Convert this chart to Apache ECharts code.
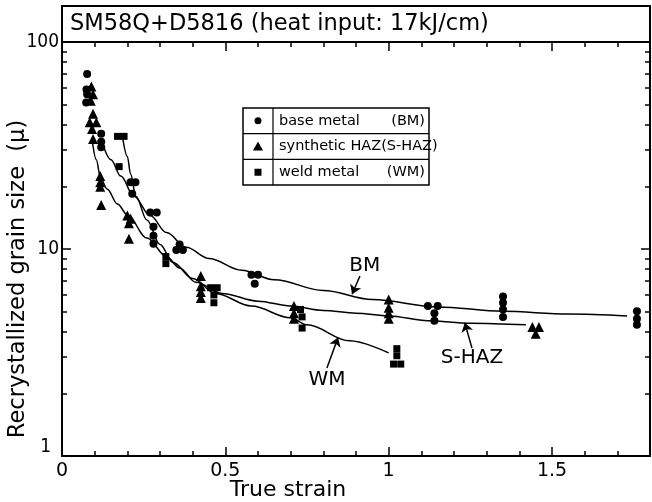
<!DOCTYPE html>
<html>
<head>
<meta charset="utf-8">
<script src="https://cdn.jsdelivr.net/npm/echarts@6/dist/echarts.min.js"></script>
<style>
  html, body { margin: 0; padding: 0; background: #fff; }
  #main { width: 652px; height: 502px; }
</style>
</head>
<body>
<div id="main"></div>
<script>
// ---- data: [true strain, grain size (micron)] ----
const baseMetal = [
  [0.077, 70], [0.075, 59], [0.077, 56], [0.074, 51],
  [0.12, 36], [0.12, 33], [0.12, 31],
  [0.21, 21], [0.225, 21], [0.215, 18.5],
  [0.27, 15], [0.29, 15], [0.28, 12.8], [0.28, 11.6], [0.28, 10.6],
  [0.36, 10.5], [0.35, 9.9], [0.37, 9.9],
  [0.58, 7.5], [0.6, 7.5], [0.59, 6.8],
  [1.12, 5.3], [1.15, 5.3], [1.14, 4.9], [1.14, 4.5],
  [1.35, 5.9], [1.35, 5.5], [1.35, 5.1], [1.35, 4.7],
  [1.76, 5.0], [1.76, 4.6], [1.76, 4.3]
]
const syntheticHaz = [
  [0.09, 61], [0.095, 56], [0.088, 52], [0.095, 45], [0.085, 41], [0.105, 41],
  [0.092, 38], [0.095, 34],
  [0.117, 22.5], [0.117, 21], [0.117, 20], [0.12, 16.3],
  [0.2, 14.5], [0.21, 14], [0.205, 13.3], [0.205, 11.2],
  [0.425, 7.4], [0.425, 6.6], [0.425, 6.2], [0.425, 5.8],
  [0.71, 5.3], [0.71, 4.9], [0.71, 4.6],
  [1.0, 5.7], [1.0, 5.2], [1.0, 4.9], [1.0, 4.6],
  [1.44, 4.2], [1.46, 4.2], [1.45, 3.9]
]
const weldMetal = [
  [0.17, 35], [0.19, 35], [0.175, 25],
  [0.318, 9.2], [0.318, 8.5],
  [0.455, 6.5], [0.475, 6.5], [0.465, 6.0], [0.465, 5.5],
  [0.73, 5.1], [0.735, 4.7], [0.735, 4.15],
  [1.025, 3.3], [1.025, 3.05], [1.015, 2.78], [1.037, 2.78]
]

// fitted curves drawn in the figure
const bmCurve = [
  [0.125, 32], [0.15, 27], [0.18, 22.5], [0.22, 18], [0.27, 14.5], [0.32, 12],
  [0.38, 10.2], [0.45, 9], [0.55, 7.9], [0.65, 7.1], [0.8, 6.3], [0.95, 5.7],
  [1.15, 5.25], [1.35, 5.0], [1.55, 4.85], [1.73, 4.75]
]
const shazCurve = [
  [0.093, 33], [0.105, 27], [0.118, 22], [0.138, 19.5], [0.17, 16.5], [0.2, 14.6],
  [0.26, 11.3], [0.32, 9.2], [0.36, 8.1], [0.41, 6.9], [0.49, 6.1], [0.6, 5.6],
  [0.7, 5.3], [0.8, 5.05], [0.9, 4.9], [1.0, 4.75], [1.12, 4.5], [1.25, 4.38], [1.42, 4.3]
]
const wmCurve = [
  [0.185, 35], [0.2, 28], [0.21, 23], [0.226, 18], [0.26, 13.8], [0.3, 10.5],
  [0.34, 8.6], [0.4, 7.2], [0.47, 6.1], [0.58, 5.3], [0.7, 4.65], [0.75, 4.3],
  [0.88, 3.6], [1.0, 3.15]
]

// curve labels and their arrows (data coordinates)
const curveLabels = [
  { name: 'BM', value: [0.927, 8.3] },
  { name: 'S-HAZ', value: [1.255, 2.97] },
  { name: 'WM', value: [0.811, 2.33] }
]
const labelArrows = [
  [[0.912, 7.4], [0.888, 6.05]],
  [[1.255, 3.32], [1.233, 4.4]],
  [[0.811, 2.66], [0.845, 3.74]]
]

// axis ticks
const xMajor = [0, 0.5, 1, 1.5]
const xMinor = [0.1, 0.2, 0.3, 0.4, 0.6, 0.7, 0.8, 0.9, 1.1, 1.2, 1.3, 1.4, 1.6, 1.7]
const yMajor = [1, 10, 100]
const yMinor = [2, 3, 4, 5, 6, 7, 8, 9, 20, 30, 40, 50, 60, 70, 80, 90]

const legendRows = [
  { symbol: 'circle', text: 'base metal', tag: '(BM)' },
  { symbol: 'triangle', text: 'synthetic HAZ(S-HAZ)', tag: '' },
  { symbol: 'square', text: 'weld metal', tag: '(WM)' }
]

const FONT = 'DejaVu Sans'
const NARROW = '"DejaVu Sans Condensed", "DejaVu Sans"'
const INK = '#000'

const chart = echarts.init(document.getElementById('main'))

function xAx(pos, ticks, len, withLine, withLabel) {
  return {
    type: 'value', position: pos, min: 0, max: 1.8,
    axisLine: { show: withLine, onZero: false, lineStyle: { color: INK, width: 2 } },
    axisTick: { show: true, inside: true, length: len, customValues: ticks, lineStyle: { color: INK, width: 1.5 } },
    axisLabel: withLabel
      ? { show: true, customValues: xMajor, color: INK, fontFamily: FONT, fontSize: 19, margin: 6 }
      : { show: false },
    splitLine: { show: false }
  }
}
function yAx(pos, ticks, len, withLine, withLabel) {
  return {
    type: 'log', logBase: 10, position: pos, min: 1, max: 100,
    axisLine: { show: withLine, onZero: false, lineStyle: { color: INK, width: 2 } },
    axisTick: { show: true, inside: true, length: len, customValues: ticks, lineStyle: { color: INK, width: 1.5 } },
    axisLabel: withLabel
      ? {
          show: true, customValues: yMajor, color: INK, fontFamily: NARROW, fontSize: 19, margin: 3,
          formatter: v => (v === 1 ? '{lo|1}' : String(v)),
          rich: { lo: { fontFamily: NARROW, fontSize: 19, color: INK, padding: [0, 8, 18, 0] } }
        }
      : { show: false },
    splitLine: { show: false },
    minorTick: { show: false }
  }
}

const xAxes = [
  xAx('bottom', xMajor, 9, true, true),
  xAx('bottom', xMinor, 5, false, false),
  xAx('top', xMajor, 9, true, false),
  xAx('top', xMinor, 5, false, false)
]
Object.assign(xAxes[0], {
  name: 'True strain', nameLocation: 'middle', nameGap: 23, nameMoveOverlap: false,
  nameTextStyle: { color: INK, fontFamily: FONT, fontSize: 22, padding: [0, 136, 0, 0] }
})

const yAxes = [
  yAx('left', yMajor, 9, true, true),
  yAx('left', yMinor, 5, false, false),
  yAx('right', yMajor, 9, true, false),
  yAx('right', yMinor, 5, false, false)
]
Object.assign(yAxes[0], {
  name: 'Recrystallized grain size  (\u03bc)', nameLocation: 'middle', nameGap: 32, nameMoveOverlap: false,
  nameTextStyle: { color: INK, fontFamily: FONT, fontSize: 22.5, padding: [0, 60, 0, 0] }
})

function scatter(name, data, symbol, size) {
  return { name, type: 'scatter', data, symbol, symbolSize: size, itemStyle: { color: INK, opacity: 1 }, z: 5 }
}
function curve(name, data) {
  return {
    name, type: 'line', data, smooth: 0.35, smoothMonotone: 'x', showSymbol: false,
    lineStyle: { color: INK, width: 1.5 }, silent: true, z: 3
  }
}

// legend table (a drawn box, as in the figure)
const lg = { x: 243, y: 108, w: 186, rowH: 25.7, col: 30 }
const LEGEND_FONT = '14.5px "DejaVu Sans"'
const legendGraphics = [
  { type: 'rect', shape: { x: lg.x, y: lg.y, width: lg.w, height: lg.rowH * 3 },
    style: { fill: '#fff', stroke: INK, lineWidth: 1.5 } },
  { type: 'line', shape: { x1: lg.x + lg.col, y1: lg.y, x2: lg.x + lg.col, y2: lg.y + lg.rowH * 3 },
    style: { stroke: INK, lineWidth: 1.2 } }
]
legendRows.forEach((r, i) => {
  const cy = lg.y + lg.rowH * (i + 0.5)
  const cx = lg.x + lg.col / 2
  if (i > 0) {
    legendGraphics.push({ type: 'line',
      shape: { x1: lg.x, y1: lg.y + lg.rowH * i, x2: lg.x + lg.w, y2: lg.y + lg.rowH * i },
      style: { stroke: INK, lineWidth: 1.2 } })
  }
  if (r.symbol === 'circle') {
    legendGraphics.push({ type: 'circle', shape: { cx, cy, r: 3.5 }, style: { fill: INK } })
  } else if (r.symbol === 'triangle') {
    legendGraphics.push({ type: 'polygon', shape: { points: [[cx, cy - 5], [cx + 5, cy + 4], [cx - 5, cy + 4]] }, style: { fill: INK } })
  } else {
    legendGraphics.push({ type: 'rect', shape: { x: cx - 3.5, y: cy - 3.5, width: 7, height: 7 }, style: { fill: INK } })
  }
  legendGraphics.push({ type: 'text', x: lg.x + lg.col + 6, y: cy,
    style: { text: r.text, fill: INK, font: LEGEND_FONT, verticalAlign: 'middle' } })
  if (r.tag) {
    legendGraphics.push({ type: 'text', x: lg.x + lg.w - 4, y: cy,
      style: { text: r.tag, fill: INK, font: LEGEND_FONT, verticalAlign: 'middle', align: 'right' } })
  }
})

chart.setOption({
  backgroundColor: '#fff',
  animation: false,
  grid: { left: 62, top: 42, width: 588, height: 414, containLabel: false, outerBoundsMode: 'none' },
  xAxis: xAxes,
  yAxis: yAxes,
  graphic: [
    // title box on top of the frame
    { type: 'rect', shape: { x: 62, y: 6, width: 588, height: 36 },
      style: { fill: '#fff', stroke: INK, lineWidth: 2 } },
    { type: 'text', x: 70, y: 24,
      style: { text: 'SM58Q+D5816 (heat input: 17kJ/cm)', fill: INK, font: '22.5px "DejaVu Sans"', verticalAlign: 'middle' } },
    ...legendGraphics
  ],
  series: [
    curve('BM curve', bmCurve),
    curve('S-HAZ curve', shazCurve),
    curve('WM curve', wmCurve),
    scatter('base metal', baseMetal, 'circle', 8),
    scatter('synthetic HAZ', syntheticHaz, 'triangle', 10),
    scatter('weld metal', weldMetal, 'rect', 7),
    {
      name: 'labels', type: 'scatter', data: curveLabels, symbolSize: 0, silent: true,
      itemStyle: { opacity: 1 },
      label: { show: true, position: 'inside', formatter: '{b}', color: INK, fontFamily: FONT, fontSize: 20 }
    },
    {
      name: 'arrows', type: 'lines', coordinateSystem: 'cartesian2d', silent: true,
      symbol: ['none', 'arrow'], symbolSize: [0, 9],
      lineStyle: { color: INK, width: 1.5, opacity: 1 },
      data: labelArrows.map(c => ({ coords: c }))
    }
  ]
})
</script>
</body>
</html>
